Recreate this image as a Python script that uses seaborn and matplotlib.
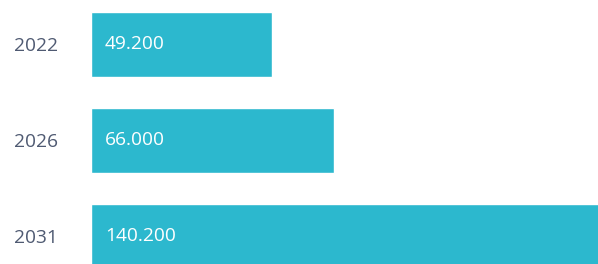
import pandas as pd
import seaborn as sns
import matplotlib.pyplot as plt

# data
years = ['2022', '2026', '2031']
values = [49200, 66000, 140200]

df = pd.DataFrame({'year': years, 'value': values})

sns.set_style('white')
plt.rcParams['font.family'] = ['Open Sans', 'DejaVu Sans']

fig = plt.figure(figsize=(5.98, 2.64), dpi=100)
ax = fig.add_axes([91 / 598, 0, 507 / 598, 1])

sns.barplot(data=df, x='value', y='year', orient='h', color='#2cb8ce',
            saturation=1, width=0.677, ax=ax)

ax.set_xlim(0, 137800)
ax.set_ylim(2.2865, -0.4635)
ax.set_xlabel('')
ax.set_ylabel('')
ax.set_xticks([])
sns.despine(ax=ax, left=True, bottom=True)
ax.tick_params(axis='y', length=0, pad=24, labelsize=13.8, labelcolor='#4f5a72')

# value labels inside bars, European thousands separator
for i, v in enumerate(values):
    lab = f'{v:,}'.replace(',', '.')
    ax.annotate(lab, xy=(0, i), xytext=(10, 0), textcoords='offset points',
                ha='left', va='center', color='white', fontsize=13.8)

fig.savefig('out.png', dpi=100)
